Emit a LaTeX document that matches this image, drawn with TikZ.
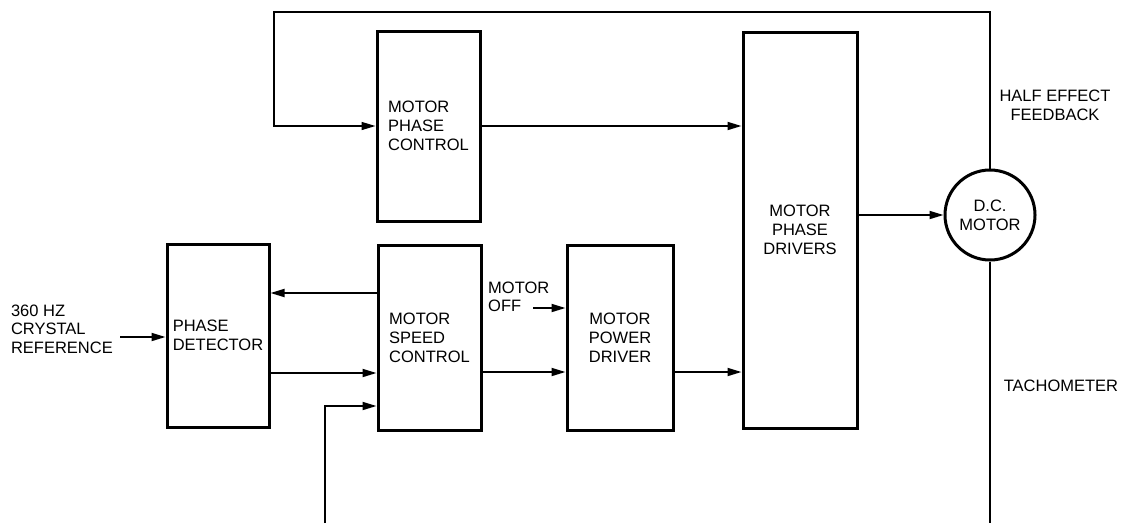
\documentclass[tikz,border=0pt]{standalone}
\usepackage{fontspec}
\setmainfont{Liberation Sans}
\usetikzlibrary{arrows.meta}
\begin{document}
\begin{tikzpicture}[x=1pt,y=-1pt,
  blk/.style={draw,line width=3pt,inner sep=0pt,font=\fontsize{16.5}{19}\selectfont},
  lbl/.style={inner sep=0pt,font=\fontsize{16.5}{18.5}\selectfont},
  conn/.style={line width=1.8pt},
  thinconn/.style={line width=1.4pt},
  arr/.style={conn,-{Triangle[length=14pt,width=8pt]}}]
\useasboundingbox (0,0) rectangle (1123,523);
% blocks
\node[blk,minimum width=102pt,minimum height=183pt,align=left] (pd) at (218,335.5) {PHASE\\DETECTOR};
\node[blk,minimum width=103pt,minimum height=190pt,align=left] (mpc) at (428.5,126) {MOTOR\\PHASE\\CONTROL};
\node[blk,minimum width=103pt,minimum height=185pt,align=left] (msc) at (429.5,337.5) {MOTOR\\SPEED\\CONTROL};
\node[blk,minimum width=106pt,minimum height=185pt,align=center] (pdrv) at (620,337.5) {MOTOR\\POWER\\DRIVER};
\node[blk,minimum width=114pt,minimum height=396pt,align=center] (mpdr) at (800,230) {MOTOR\\PHASE\\DRIVERS};
\node[blk,circle,minimum size=90pt,align=center] (motor) at (990,215) {D.C.\\MOTOR};
% labels
\node[lbl,align=left,anchor=east] (reflbl) at (113,329) {360 HZ\\CRYSTAL\\REFERENCE};
\node[lbl,align=left,anchor=west] (offlbl) at (488,297) {MOTOR\\OFF};
\node[lbl,align=center] (hall) at (1055,105.5) {HALF EFFECT\\FEEDBACK};
\node[lbl] (tacho) at (1061,386) {TACHOMETER};
% free ends
\coordinate (cin) at (120,337);
\coordinate (moff) at (533,308);
\coordinate (tl) at (274,12);
\coordinate (bin) at (325,523);
\coordinate (tach) at (990,523);
% connectors
\draw[arr] (cin) -- (pd.west |- cin);
\draw[arr,thinconn] (motor.north) |- (tl) |- (mpc.west);
\draw[arr] (mpc.east) -- (mpc.east -| mpdr.west);
\draw[arr] (mpdr.east |- motor.west) -- (motor.west);
\draw[thinconn] (motor.south) -- (tach);
\draw[arr] (msc.west |- 0,293) -- (pd.east |- 0,293);
\draw[arr] (pd.east |- 0,373) -- (msc.west |- 0,373);
\draw[arr] (bin) |- (msc.west |- 0,406);
\draw[arr] (msc.east |- 0,372) -- (pdrv.west |- 0,372);
\draw[arr] (moff) -- (pdrv.west |- moff);
\draw[arr] (pdrv.east |- 0,372) -- (mpdr.west |- 0,372);
\end{tikzpicture}
\end{document}
